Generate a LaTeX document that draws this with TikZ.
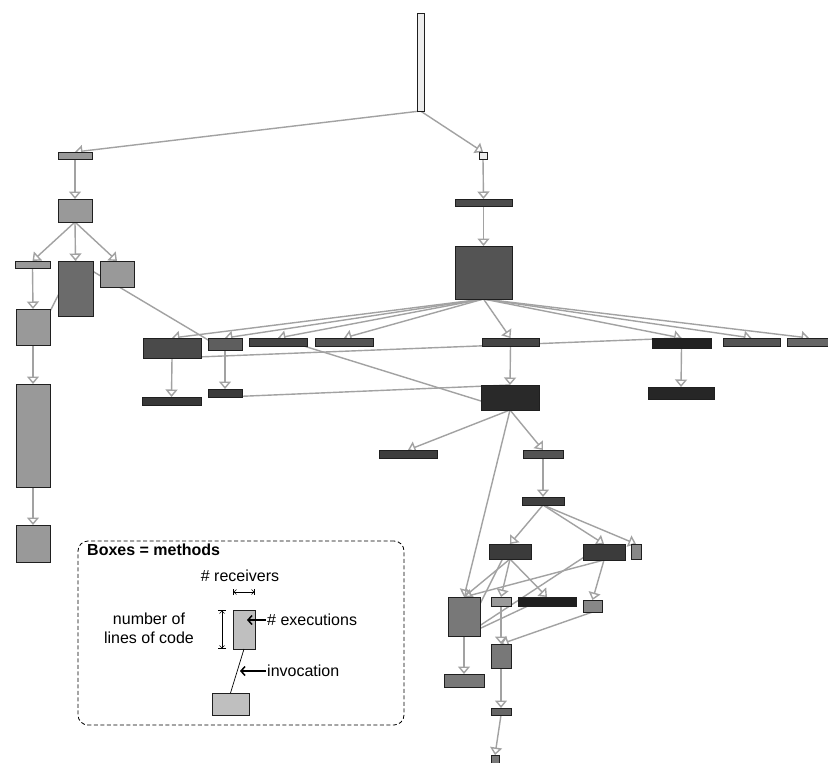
\documentclass[tikz,border=0pt]{standalone}
\usepackage{fontspec}
\setmainfont{Liberation Sans}
\usetikzlibrary{arrows.meta,backgrounds}
\definecolor{callgray}{HTML}{A2A2A2}
\tikzset{
  dimline/.style={line width=0.6pt,
    {Bar[width=#1]Straight Barb[length=2.5pt,width=5pt]}-{Straight Barb[length=2.5pt,width=5pt]Bar[width=#1]}}
}
% box from (x1,y1) to (x2,y2), y counted downwards
\newcommand\methodbox[6]{%
  \node[meth,fill=#6,minimum width={(#4-#2)*1pt},minimum height={(#5-#3)*1pt}] (#1) at ({(#2+#4)/2},{(#3+#5)/2}) {};}

\begin{document}
\begin{tikzpicture}
  [x=1pt,y=-1pt,
  meth/.style={rectangle,draw=black!88,line width=1pt,inner sep=0pt,outer sep=0pt},
  call/.style={draw=callgray,line width=1.4pt,-{Triangle[open,width=12pt,length=7.5pt]}},
  backcall/.style={draw=callgray,line width=1.4pt},
  keytext/.style={font=\fontsize{16}{19}\selectfont,inner sep=1pt},
  keyarrow/.style={line width=1.5pt,-{Straight Barb[length=4pt,width=9pt]}}
  ]
  \useasboundingbox (0,0) rectangle (828,763);

  % left branch
  \methodbox{root}{417}{13}{424}{111}{black!7}
  \methodbox{la}{58}{152}{92}{159}{black!40}
  \methodbox{lb}{58}{199}{92}{222}{black!40}
  \methodbox{lc}{15}{261}{50}{268}{black!40}
  \methodbox{ld}{58}{261}{93}{316}{black!58}
  \methodbox{le}{100}{261}{134}{287}{black!40}
  \methodbox{lf}{16}{309}{50}{345}{black!40}
  \methodbox{lg}{16}{384}{50}{487}{black!40}
  \methodbox{lh}{16}{525}{50}{562}{black!40}

  % right branch
  \methodbox{ra}{479}{152}{487}{159}{black!7}
  \methodbox{rb}{455}{199}{512}{206}{black!70}
  \methodbox{rc}{455}{246}{512}{299}{black!67}

  % row of callees
  \methodbox{ca}{143}{338}{201}{358}{black!71}
  \methodbox{cb}{208}{338}{242}{350}{black!63}
  \methodbox{cc}{249}{338}{307}{346}{black!73}
  \methodbox{cd}{315}{338}{373}{346}{black!67}
  \methodbox{ce}{482}{338}{539}{346}{black!73}
  \methodbox{cf}{652}{338}{711}{348}{black!87}
  \methodbox{cg}{723}{338}{780}{346}{black!67}
  \methodbox{ch}{787}{338}{831}{346}{black!60}

  \methodbox{da}{142}{397}{201}{405}{black!78}
  \methodbox{db}{208}{389}{242}{397}{black!77}
  \methodbox{dc}{481}{385}{539}{410}{black!84}
  \methodbox{df}{648}{387}{714}{399}{black!85}

  \methodbox{ea}{379}{450}{437}{458}{black!76}
  \methodbox{eb}{523}{450}{563}{458}{black!67}
  \methodbox{fb}{522}{497}{564}{505}{black!75}

  % lower cluster
  \methodbox{ga}{489}{544}{531}{559}{black!77}
  \methodbox{gb}{583}{544}{625}{560}{black!77}
  \methodbox{gc}{631}{544}{641}{559}{black!47}
  \methodbox{ha}{448}{597}{480}{636}{black!53}
  \methodbox{hb}{491}{597}{511}{606}{black!40}
  \methodbox{hc}{518}{597}{576}{606}{black!88}
  \methodbox{hd}{583}{600}{602}{612}{black!47}
  \methodbox{ia}{491}{644}{511}{668}{black!53}
  \methodbox{ja}{444}{674}{484}{687}{black!53}
  \methodbox{ka}{491}{708}{511}{715}{black!60}
  \methodbox{ma}{491}{755}{499}{766}{black!53}

  \begin{scope}[on background layer]
    \fill[white] (0,0) rectangle (828,763);
    \foreach \src/\dst in {root/la, root/ra, la/lb, ra/rb, rb/rc,
      lb/lc, lb/ld, lb/le, lc/lf, lf/lg, lg/lh,
      rc/ca, rc/cb, rc/cc, rc/cd, rc/ce, rc/cf, rc/cg, rc/ch,
      ca/da, cb/db, ce/dc, cf/df,
      dc/ea, dc/eb, dc/ha, eb/fb,
      fb/ga, fb/gb, fb/gc,
      ga/ha, ga/hb, ga/hc, gb/ha, gb/hd,
      hb/ia, hd/ia, ha/ja, ia/ka, ka/ma}
      \draw[call] (\src.south) -- (\dst.north);
    % calls back up the tree
    \foreach \src/\dst in {lf/ld, cb/ld, ca/cf, db/dc, dc/cc, ha/ga, ha/gb, ha/hc}
      \draw[backcall] (\src.south) -- (\dst.north);
  \end{scope}

  % legend
  \node[draw,rounded corners=10pt,line width=0.8pt,dash pattern=on 4pt off 2.5pt,
    minimum width=326pt,minimum height=184pt] (keyframe) at (241,633) {};
  \node[keytext,font=\bfseries\fontsize{16}{19}\selectfont,anchor=west,fill=white] (keytitle) at (86,550) {Boxes = methods};
  \methodbox{keybox}{233}{610}{255}{649}{black!25}
  \methodbox{keycallee}{212}{693}{249}{715}{black!25}
  \draw[line width=0.7pt] (keybox.south) -- (keycallee.north);

  \node[keytext] (recvlabel) at (240,576) {\# receivers};
  \draw[dimline=6pt] ([yshift=18pt]keybox.north west) -- ([yshift=18pt]keybox.north east);
  \draw[dimline=8pt] ([xshift=-11pt]keybox.north west) -- ([xshift=-11pt]keybox.south west);
  \node[keytext,align=center] (loclabel) at (149,628) {number of\\lines of code};

  \node[keytext,anchor=west] (execlabel) at (266,620) {\# executions};
  \coordinate (exectip) at (247,620);
  \draw[keyarrow] (execlabel.west) -- (exectip);

  \node[keytext,anchor=west] (invlabel) at (266,671) {invocation};
  \coordinate (invtip) at (240,671);
  \draw[keyarrow] (invlabel.west) -- (invtip);
\end{tikzpicture}
\end{document}
